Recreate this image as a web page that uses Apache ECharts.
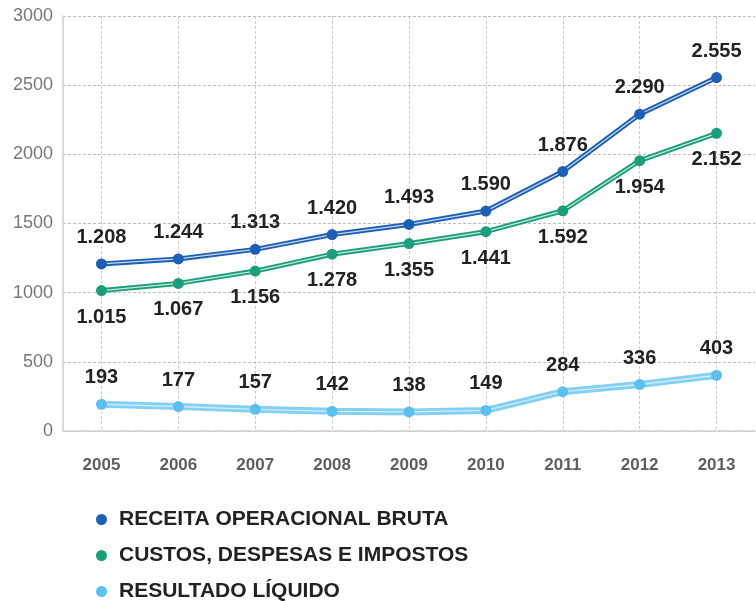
<!DOCTYPE html>
<html>
<head>
<meta charset="utf-8">
<script src="https://cdn.jsdelivr.net/npm/echarts@6/dist/echarts.min.js"></script>
<style>
html,body{margin:0;padding:0;background:#fff;}
#chart{width:756px;height:602px;}
</style>
</head>
<body>
<div id="chart"></div>
<script>
const years = ['2005','2006','2007','2008','2009','2010','2011','2012','2013'];
const receita = [1208,1244,1313,1420,1493,1590,1876,2290,2555];
const custos = [1015,1067,1156,1278,1355,1441,1592,1954,2152];
const resultado = [193,177,157,142,138,149,284,336,403];
const yTicks = [0,500,1000,1500,2000,2500,3000];
const names = ['RECEITA OPERACIONAL BRUTA','CUSTOS, DESPESAS E IMPOSTOS','RESULTADO LÍQUIDO'];
const colors = ['#1d5fb5','#1a9e7c','#5bc0ee'];

function fmt(v){
  return String(v).replace(/\B(?=(\d{3})+(?!\d))/g,'.');
}

const chart = echarts.init(document.getElementById('chart'));
const datasets = [receita, custos, resultado];
const labelPos = ['top','bottom','top'];
const series = [];
datasets.forEach((d,i)=>{
  series.push({
    type:'line', data:d, symbol:'none', silent:true, z:2,
    lineStyle:{color:colors[i], width:i===2?7:5, opacity:i===2?0.75:1},
    animation:false
  });
  series.push({
    type:'line', data:d, symbol:'none', silent:true, z:3,
    lineStyle:{color:'#ffffff', width:1.3, opacity:i===2?0.6:0.75},
    animation:false
  });
  series.push({
    name:names[i], type:'line', data:d, z:4,
    symbol:'circle', symbolSize:11,
    itemStyle:{color:colors[i]},
    lineStyle:{width:0, opacity:0},
    label:{
      show:true, position:labelPos[i], distance:11,
      formatter:p=>fmt(p.value),
      fontFamily:'Liberation Sans, Arial, sans-serif',
      fontWeight:'bold', fontSize:20, color:'#222'
    },
    animation:false
  });
});

chart.setOption({
  backgroundColor:'#fff',
  animation:false,
  grid:{left:63, right:1, top:16, bottom:171, containLabel:false},
  legend:{
    orient:'vertical', left:96, top:509, itemGap:15, padding:0, height:100,
    icon:'circle', itemWidth:11, itemHeight:11,
    data:names,
    textStyle:{fontFamily:'Liberation Sans, Arial, sans-serif', fontWeight:'bold', fontSize:21, color:'#222', padding:[0,0,0,7]},
    selectedMode:false
  },
  xAxis:{
    type:'category', data:years, boundaryGap:true,
    axisLine:{show:true, lineStyle:{color:'#cfcfcf', width:1.5}},
    axisTick:{show:false, alignWithLabel:true},
    axisLabel:{margin:26, fontFamily:'Liberation Sans, Arial, sans-serif', fontWeight:'bold', fontSize:17, color:'#5e5e5e'},
    splitLine:{show:true, alignWithLabel:true, lineStyle:{color:'#cccccc', type:[3,2], width:1}}
  },
  yAxis:{
    type:'value', min:0, max:3000, interval:500,
    axisLine:{show:true, lineStyle:{color:'#cfcfcf', width:1.5}},
    axisTick:{show:false},
    axisLabel:{margin:10, fontFamily:'Liberation Sans, Arial, sans-serif', fontSize:18, color:'#777',
      formatter:v=>yTicks.includes(v)?String(v):''},
    splitLine:{show:true, lineStyle:{color:'#bbbbbb', type:[3,2], width:1}}
  },
  series:series
});
</script>
</body>
</html>
